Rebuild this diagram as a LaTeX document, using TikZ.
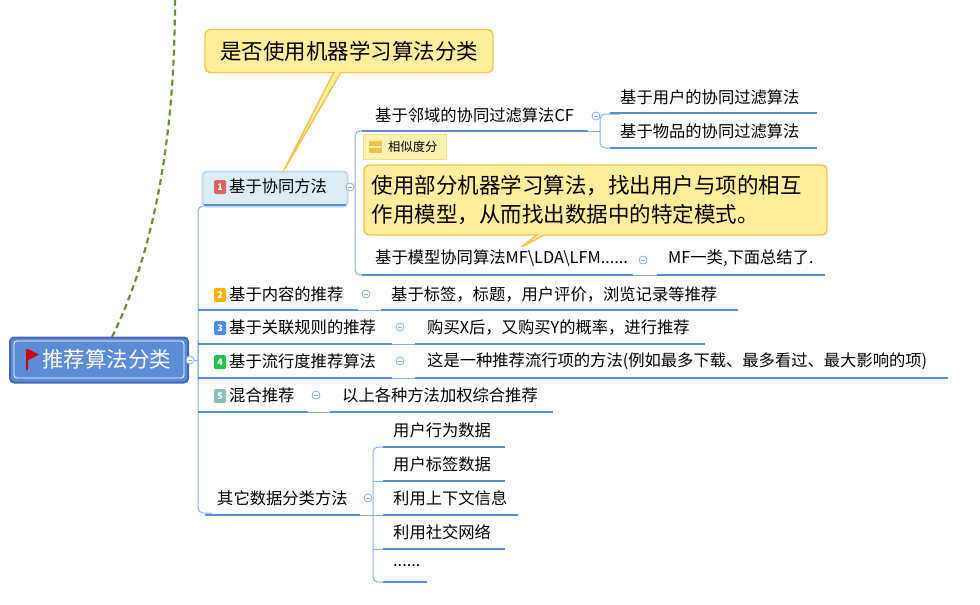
\documentclass[tikz,border=0pt]{standalone}
\usepackage{fontspec}
\setmainfont{Noto Sans CJK SC}
\usetikzlibrary{shapes.callouts}
\definecolor{ul}{HTML}{5B8DD6}
\definecolor{cn}{HTML}{8AAEE0}
\definecolor{yel}{HTML}{FFEF9C}
\definecolor{yelb}{HTML}{F2C14E}
\definecolor{grn}{RGB}{110,140,60}
\definecolor{rootb}{RGB}{70,105,180}
\definecolor{n1f}{RGB}{222,236,246}
\definecolor{n1b}{RGB}{196,218,236}
\definecolor{labf}{RGB}{255,243,180}
\definecolor{labb}{RGB}{245,222,140}
\definecolor{labi}{RGB}{245,190,70}
\definecolor{bA}{RGB}{220,100,100}
\definecolor{bB}{RGB}{255,176,0}
\definecolor{bC}{RGB}{74,141,247}
\definecolor{bD}{RGB}{29,198,74}
\definecolor{bE}{RGB}{143,188,187}
\tikzset{
 txt/.style={anchor=west,inner sep=0pt,font=\fontsize{16.3}{18}\selectfont},
 uline/.style={ul,line width=2.6pt},
 conn/.style={cn,line width=1pt,rounded corners=5pt},
 col/.style={circle,draw=cn,fill=white,line width=0.8pt,minimum size=8pt,inner sep=0pt,
   path picture={\draw[cn,line width=0.8pt] ([xshift=-2pt]path picture bounding box.center)--([xshift=2pt]path picture bounding box.center);}},
 badge/.style={fill=#1,rounded corners=1.5pt,minimum width=12pt,minimum height=14pt,inner sep=0pt,text=white,font=\fontsize{9}{10}\selectfont\bfseries},
 note/.style={fill=yel,draw=yelb,line width=1.4pt,rounded corners=5pt,inner sep=7pt,align=left,font=\fontsize{21.5}{29}\selectfont}
}
\begin{document}
\begin{tikzpicture}[x=1pt,y=-1pt]
\useasboundingbox (0,0) rectangle (980,605);
\draw[grn,line width=2.2pt,dash pattern=on 6pt off 4pt] (112,337) .. controls (150,260) and (175,150) .. (175,0);
\node[fill=ul,draw=rootb,line width=2pt,rounded corners=4pt,minimum width=178pt,minimum height=45pt,inner sep=0pt] (root) at (99,360) {};
\draw[white,line width=0.8pt,rounded corners=3pt] (14,341) rectangle (184,378);
\fill[red!80!black] (26,349) -- (26,370) -- (28,370) -- (28,360) -- (39,354.5) -- (28,349) -- cycle;
\node[txt,text=white,font=\fontsize{21.5}{23}\selectfont] (rootT) at (42,359) {推荐算法分类};
\node[col] (c0) at (190,360) {};
\draw[conn] (198,380) -- (198,220) -- (198,206) -- (212,206);
\draw[conn] (198,340) -- (198,513) -- (212,513);
\draw[conn] (c0) -- (198,360);
\node[fill=n1f,draw=n1b,line width=2pt,rounded corners=4pt,minimum width=145pt,minimum height=35pt] (n1) at (275,189) {};
\draw[uline] (204,205) -- (346,205);
\node[badge=bA] (b1) at (220,187) {1};
\node[txt] (t1) at (229,186) {基于协同方法};
\node[col] (c1) at (350,187) {};
\draw[conn] (c1) -- (355,187);
\draw[conn] (378,131) -- (355,131) -- (355,275) -- (378,275);
\node[txt] (a1) at (375,115) {基于邻域的协同过滤算法CF};
\draw[uline] (362,131) -- (588,131);
\node[col] (ca) at (596,116) {};
\draw[conn] (620,114) -- (600,114) -- (600,148) -- (620,148);
\draw[conn] (588,131) -- (600,131);
\node[txt] (a11) at (620,97) {基于用户的协同过滤算法};
\draw[uline] (610,113) -- (817,113);
\node[txt] (a12) at (620,131) {基于物品的协同过滤算法};
\draw[uline] (610,148) -- (817,148);
\node[fill=labf,draw=labb,line width=0.8pt,minimum width=83pt,minimum height=25pt,inner sep=0pt] (lab) at (404.5,147) {};
\fill[labi] (369,141) rectangle (382,145.5);
\fill[labi] (369,148) rectangle (382,152.5);
\node[txt,font=\fontsize{12.3}{13}\selectfont] (labT) at (388,147) {相似度分};
\node[rectangle callout,note,minimum width=463pt,minimum height=70pt,text width=448pt,callout absolute pointer={(520,248)}] (call2) at (595.5,200) {使用部分机器学习算法，找出用户与项的相互\\作用模型，从而找出数据中的特定模式。};
\node[txt] (a2) at (375,258) {基于模型协同算法MF\textbackslash LDA\textbackslash LFM......};
\draw[uline] (362,275) -- (633,275);
\node[col] (cb) at (643,260) {};
\draw[conn] (633,275) -- (657,275);
\node[txt] (a21) at (668,258) {MF一类,下面总结了.};
\draw[uline] (657,275) -- (825,275);
\node[rectangle callout,note,minimum width=288pt,minimum height=43pt,callout absolute pointer={(283,172)}] (call1) at (349,51) {是否使用机器学习算法分类};
\node[badge=bB] (b2) at (220,295) {2};
\node[txt] (t2) at (229,294) {基于内容的推荐};
\draw[uline] (198,310) -- (358,310);
\node[col] (c2) at (366,294) {};
\node[txt] (t2a) at (391,294) {基于标签，标题，用户评价，浏览记录等推荐};
\draw[uline] (381,310) -- (738,310);
\draw[conn] (358,310) -- (381,310);
\node[badge=bC] (b3) at (220,328) {3};
\node[txt] (t3) at (229,327) {基于关联规则的推荐};
\draw[uline] (198,344) -- (392,344);
\node[col] (c3) at (400,327) {};
\node[txt] (t3a) at (427,327) {购买X后，又购买Y的概率，进行推荐};
\draw[uline] (415,344) -- (705,344);
\draw[conn] (392,344) -- (415,344);
\node[badge=bD] (b4) at (220,362) {4};
\node[txt] (t4) at (229,361) {基于流行度推荐算法};
\draw[uline] (198,378) -- (392,378);
\node[col] (c4) at (400,361) {};
\node[txt] (t4a) at (427,361) {这是一种推荐流行项的方法(例如最多下载、最多看过、最大影响的项)};
\draw[uline] (415,378) -- (948,378);
\draw[conn] (392,378) -- (415,378);
\node[badge=bE] (b5) at (220,396) {5};
\node[txt] (t5) at (229,395) {混合推荐};
\draw[uline] (198,412) -- (308,412);
\node[col] (c5) at (316,395) {};
\node[txt] (t5a) at (342,395) {以上各种方法加权综合推荐};
\draw[uline] (330,412) -- (553,412);
\draw[conn] (308,412) -- (330,412);
\node[txt] (t6) at (217,498) {其它数据分类方法};
\draw[uline] (205,515) -- (360,515);
\node[col] (c6) at (368,498) {};
\draw[conn] (390,447) -- (373,447) -- (373,582) -- (390,582);
\draw[conn] (360,515) -- (383,515);
\node[txt] (s1) at (393,430) {用户行为数据};
\draw[uline] (383,447) -- (505,447);
\node[txt] (s2) at (393,464) {用户标签数据};
\draw[uline] (383,481) -- (505,481);
\draw[conn] (373,481) -- (383,481);
\node[txt] (s3) at (393,498) {利用上下文信息};
\draw[uline] (383,515) -- (518,515);
\node[txt] (s4) at (393,532) {利用社交网络};
\draw[uline] (383,549) -- (505,549);
\draw[conn] (373,549) -- (383,549);
\node[txt] (s5) at (393,566) {......};
\draw[uline] (383,582) -- (427,582);
\end{tikzpicture}
\end{document}
